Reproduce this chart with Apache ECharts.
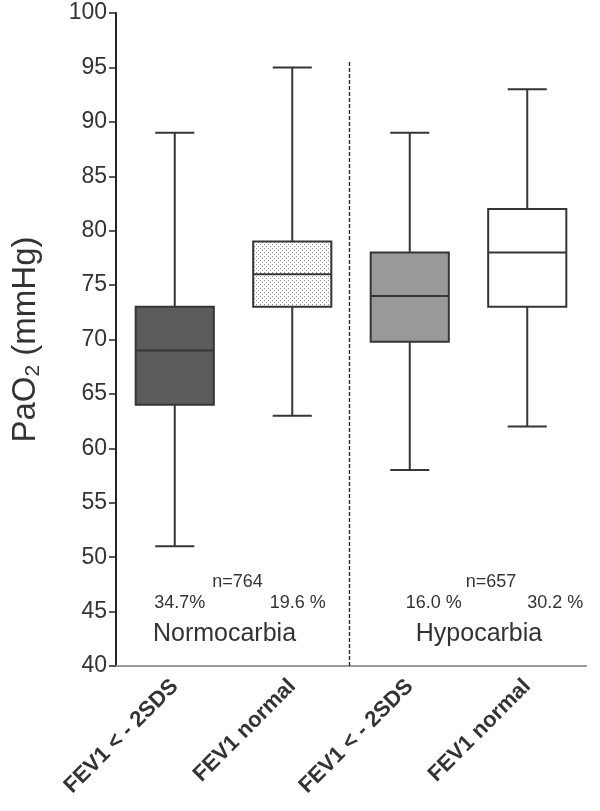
<!DOCTYPE html>
<html>
<head>
<meta charset="utf-8">
<script src="https://cdn.jsdelivr.net/npm/echarts@6/dist/echarts.min.js"></script>
<style>
html,body{margin:0;padding:0;background:#fff;}
#c{width:600px;height:811px;}
</style>
</head>
<body>
<div id="c"></div>
<script>
// ---- data ----
const categories = ['FEV1 < - 2SDS', 'FEV1 normal', 'FEV1 < - 2SDS', 'FEV1 normal'];
const whiskerLow = [51, 63, 58, 62];
const q1 = [64, 73, 69.8, 73];
const median = [69, 76, 74, 78];
const q3 = [73, 79, 78, 82];
const whiskerHigh = [89, 95, 89, 93];
const yTicks = [40, 45, 50, 55, 60, 65, 70, 75, 80, 85, 90, 95, 100];
const groupNames = ['Normocarbia', 'Hypocarbia'];
const groupN = ['n=764', 'n=657'];
const percentLabels = ['34.7%', '19.6 %', '16.0 %', '30.2 %'];
const dividerRange = [95.5, 40];

// ---- styles ----
const pc = document.createElement('canvas');
pc.width = 4; pc.height = 4;
const pctx = pc.getContext('2d');
pctx.fillStyle = '#ffffff'; pctx.fillRect(0, 0, 4, 4);
pctx.fillStyle = '#8a8a8a';
pctx.fillRect(0, 0, 1, 1);
pctx.fillRect(2, 2, 1, 1);
const fills = ['#5b5b5b', { image: pc, repeat: 'repeat' }, '#999999', '#ffffff'];
const stroke = '#353535';

const boxData = categories.map((c, i) => [i, whiskerLow[i], q1[i], median[i], q3[i], whiskerHigh[i]]);

function renderBox(params, api) {
  const i = api.value(0);
  const lo = api.coord([i, api.value(1)]);
  const b1 = api.coord([i, api.value(2)]);
  const md = api.coord([i, api.value(3)]);
  const b3 = api.coord([i, api.value(4)]);
  const hi = api.coord([i, api.value(5)]);
  const bw = api.size([1, 0])[0] * 0.665;
  const cw = bw / 2;
  const x = lo[0];
  const ls = { stroke: stroke, lineWidth: 2 };
  return {
    type: 'group',
    children: [
      { type: 'line', shape: { x1: x, y1: hi[1], x2: x, y2: b3[1] }, style: ls },
      { type: 'line', shape: { x1: x, y1: b1[1], x2: x, y2: lo[1] }, style: ls },
      { type: 'line', shape: { x1: x - cw / 2, y1: hi[1], x2: x + cw / 2, y2: hi[1] }, style: ls },
      { type: 'line', shape: { x1: x - cw / 2, y1: lo[1], x2: x + cw / 2, y2: lo[1] }, style: ls },
      { type: 'rect', shape: { x: x - bw / 2, y: b3[1], width: bw, height: b1[1] - b3[1] },
        style: { fill: fills[i], stroke: stroke, lineWidth: 2 } },
      { type: 'line', shape: { x1: x - bw / 2, y1: md[1], x2: x + bw / 2, y2: md[1] }, style: ls }
    ]
  };
}

function renderDivider(params, api) {
  const a = api.coord([1, api.value(0)]);
  const b = api.coord([2, api.value(0)]);
  const c = api.coord([1, api.value(1)]);
  const x = Math.round((a[0] + b[0]) / 2) - 1.5;
  return {
    type: 'line',
    shape: { x1: x, y1: a[1], x2: x, y2: c[1] },
    style: { stroke: '#333', lineWidth: 1.5, lineDash: [4, 2] }
  };
}

const chart = echarts.init(document.getElementById('c'), null, { renderer: 'canvas' });
const textFont = 'Liberation Sans, Arial, sans-serif';

const option = {
  animation: false,
  backgroundColor: '#fff',
  grid: { left: 116, right: 14, top: 13, bottom: 145 },
  xAxis: {
    type: 'category',
    data: categories,
    boundaryGap: true,
    axisLine: { lineStyle: { color: '#999', width: 2 } },
    axisTick: { alignWithLabel: true, length: 8, lineStyle: { color: '#444', width: 1.5 } },
    axisLabel: {
      interval: 0, rotate: 45, fontSize: 22, fontWeight: 'bold',
      color: '#333', fontFamily: textFont, margin: 17
    },
    splitLine: { show: false }
  },
  yAxis: {
    type: 'value',
    min: yTicks[0], max: yTicks[yTicks.length - 1], interval: 5,
    name: 'PaO{sub|2} (mmHg)',
    nameLocation: 'middle',
    nameGap: 72,
    nameRotate: 90,
    nameTextStyle: {
      fontSize: 33, color: '#333', fontFamily: textFont,
      rich: { sub: { fontSize: 21, color: '#333', fontFamily: textFont, verticalAlign: 'bottom', padding: [16, 0, 0, 0] } }
    },
    axisLine: { show: true, lineStyle: { color: '#222', width: 2 } },
    axisTick: { show: true, length: 7, lineStyle: { color: '#222', width: 1.5 } },
    axisLabel: { fontSize: 23, color: '#333', fontFamily: textFont, margin: 9 },
    splitLine: { show: false }
  },
  series: [
    {
      type: 'custom',
      renderItem: renderDivider,
      data: [dividerRange],
      encode: { y: [0, 1] },
      silent: true,
      z: 1
    },
    {
      type: 'custom',
      renderItem: renderBox,
      data: boxData,
      encode: { x: 0, y: [1, 2, 3, 4, 5] },
      z: 2
    }
  ]
};
chart.setOption(option);

// annotations placed relative to axis coordinates
const ann = [];
const pctY = 45.8, nY = 47.7, grpY = 42.9;
const pctOff = [5, 5.5, 24, 28];
for (let i = 0; i < 4; i++) {
  const p = chart.convertToPixel({ seriesIndex: 1 }, [i, pctY]);
  ann.push({ type: 'text', x: p[0] + pctOff[i], y: p[1],
    style: { text: percentLabels[i], font: '18px ' + textFont, fill: '#333', align: 'center', verticalAlign: 'middle' } });
}
const nOff = [4, 22.5], gOff = [-9, 10.5];
for (let g = 0; g < 2; g++) {
  const a = chart.convertToPixel({ seriesIndex: 1 }, [g * 2, nY]);
  const b = chart.convertToPixel({ seriesIndex: 1 }, [g * 2 + 1, grpY]);
  const cx = (a[0] + b[0]) / 2;
  ann.push({ type: 'text', x: cx + nOff[g], y: a[1],
    style: { text: groupN[g], font: '18px ' + textFont, fill: '#333', align: 'center', verticalAlign: 'middle' } });
  ann.push({ type: 'text', x: cx + gOff[g], y: b[1],
    style: { text: groupNames[g], font: '25px ' + textFont, fill: '#333', align: 'center', verticalAlign: 'middle' } });
}
chart.setOption({ graphic: ann });
</script>
</body>
</html>
